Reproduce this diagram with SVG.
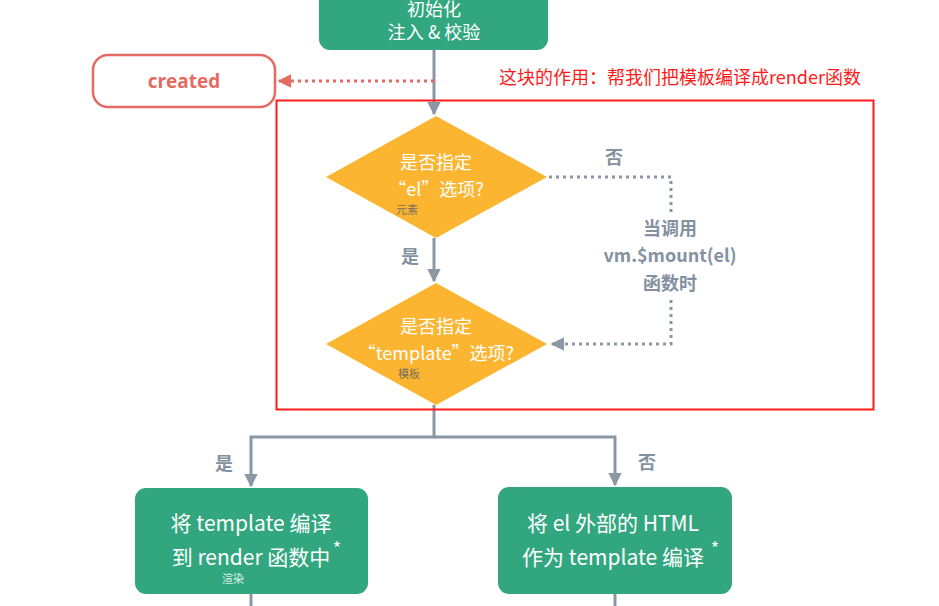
<svg xmlns="http://www.w3.org/2000/svg" width="939" height="606" viewBox="0 0 939 606">
<style>
text{font-family:"Noto Sans CJK SC","Noto Sans",sans-serif;text-anchor:middle}
.g{fill:#32a77f}
.d{fill:#fcb531}
.wt{fill:#ffffff;font-size:18px}
.bt{fill:#ffffff;font-size:21px}
.lbl{fill:#8491a0;font-size:18px;font-weight:bold}
.sm{fill:#7a7060;font-size:11px}
.ln{stroke:#8a98a6;stroke-width:3;fill:none}
.dt{stroke:#8a98a6;stroke-width:3;fill:none;stroke-dasharray:3 4}
</style>
<defs>
<marker id="ag" viewBox="0 0 10 10" refX="9" refY="5" markerWidth="4.5" markerHeight="4.5" orient="auto" markerUnits="strokeWidth"><path d="M0,0L10,5L0,10z" fill="#8a98a6"/></marker>
<marker id="ar" viewBox="0 0 10 10" refX="9" refY="5" markerWidth="4.5" markerHeight="4.5" orient="auto" markerUnits="strokeWidth"><path d="M0,0L10,5L0,10z" fill="#e46a62"/></marker>
</defs>
<rect width="939" height="606" fill="#ffffff"/>
<g id="connectors">
<line class="ln" x1="434" y1="50" x2="434" y2="114" marker-end="url(#ag)"/>
<line x1="434" y1="81" x2="279" y2="81" stroke="#e46a62" stroke-width="3" stroke-dasharray="3 4" marker-end="url(#ar)"/>
<line class="ln" x1="434" y1="238" x2="434" y2="281" marker-end="url(#ag)"/>
<path class="dt" d="M549,177 H671 V212"/>
<path class="dt" d="M671,300 V344 H552" marker-end="url(#ag)"/>
<path class="ln" d="M434,405 V437 H251 V486" marker-end="url(#ag)"/>
<path class="ln" d="M434,437 H615 V485" marker-end="url(#ag)"/>
<line class="ln" x1="251" y1="594" x2="251" y2="606"/>
<line class="ln" x1="615" y1="594" x2="615" y2="606"/>
<text class="lbl" x="410" y="263">是</text>
<text class="lbl" x="614" y="164">否</text>
<text class="lbl" x="224" y="470">是</text>
<text class="lbl" x="647" y="469">否</text>
<text class="lbl" x="670" y="235">当调用</text>
<text class="lbl" x="670" y="262" font-size="19.5">vm.$mount(el)</text>
<text class="lbl" x="670" y="290">函数时</text>
</g>
<g id="init">
<rect class="g" x="319" y="-12" width="229" height="62" rx="11"/>
<text class="wt" x="434" y="16">初始化</text>
<text class="wt" x="434" y="39">注入 &amp; 校验</text>
</g>
<g id="created">
<rect x="93" y="55" width="182" height="52" rx="15" fill="#ffffff" stroke="#e46a62" stroke-width="2.5"/>
<text x="184" y="88" fill="#e46a62" font-size="19" font-weight="bold" style="font-family:'Open Sans','Noto Sans',sans-serif">created</text>
</g>
<g id="note">
<text x="680" y="84" fill="#ff1a1a" font-size="18">这块的作用：帮我们把模板编译成render函数</text>
<rect x="276.5" y="100.5" width="597" height="309" fill="none" stroke="#ff1a1a" stroke-width="2"/>
</g>
<g id="decision-el">
<polygon class="d" points="436,116 547,177 436,238 326,177"/>
<text class="wt" x="436" y="169">是否指定</text>
<text class="wt" x="436" y="196">“el”选项?</text>
<text class="sm" x="407" y="214">元素</text>
</g>
<g id="decision-template">
<polygon class="d" points="436,283 547,344 436,405 326,344"/>
<text class="wt" x="436" y="333">是否指定</text>
<text class="wt" x="436" y="360">“template”选项?</text>
<text class="sm" x="409" y="378">模板</text>
</g>
<g id="compile-template">
<rect class="g" x="135" y="488" width="233" height="106" rx="11"/>
<text class="bt" x="251" y="531">将 template 编译</text>
<text class="bt" x="251" y="565">到 render 函数中</text>
<text class="wt" x="337" y="555" font-size="14">*</text>
<text x="233" y="583" fill="#d8efe4" font-size="11">渲染</text>
</g>
<g id="compile-html">
<rect class="g" x="498" y="487" width="234" height="107" rx="11"/>
<text class="bt" x="613" y="531">将 el 外部的 HTML</text>
<text class="bt" x="613" y="565">作为 template 编译</text>
<text class="wt" x="715" y="555" font-size="14">*</text>
</g>
</svg>
